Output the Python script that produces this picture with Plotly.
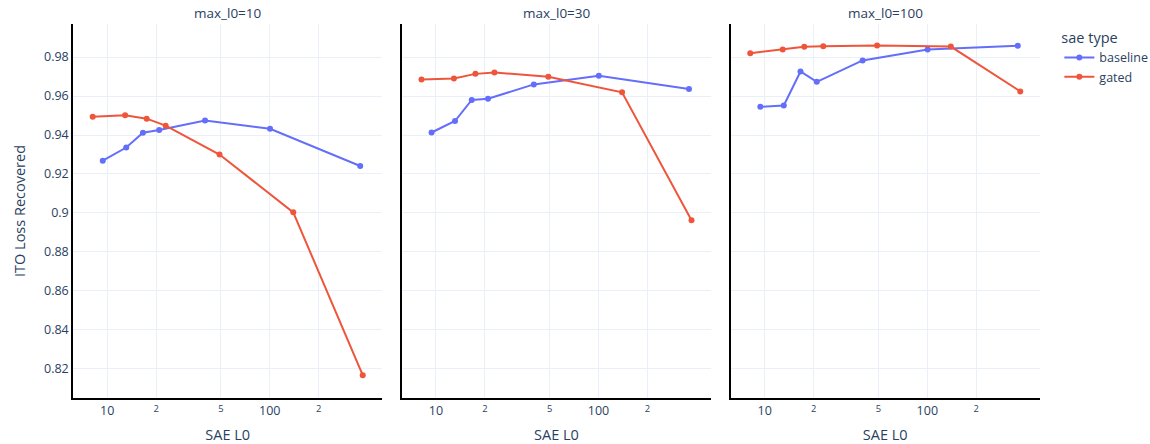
import plotly.graph_objects as go

facets = ["max_l0=10", "max_l0=30", "max_l0=100"]

baseline_l0 = [9.4, 13.1, 16.6, 20.9, 40.0, 100.4, 360.0]
gated_l0 = [8.15, 12.9, 17.5, 22.9, 49.1, 139.5, 373.0]

baseline_10 = [0.9268, 0.9336, 0.9412, 0.9426, 0.9475, 0.9432, 0.9241]
gated_10 = [0.9494, 0.9501, 0.9484, 0.9448, 0.9300, 0.9003, 0.8167]

baseline_30 = [0.9413, 0.9472, 0.9580, 0.9586, 0.9660, 0.9704, 0.9636]
gated_30 = [0.9685, 0.9690, 0.9714, 0.9721, 0.9699, 0.9619, 0.8962]

baseline_100 = [0.9545, 0.9552, 0.9726, 0.9673, 0.9783, 0.9839, 0.9858]
gated_100 = [0.9820, 0.9839, 0.9853, 0.9856, 0.9859, 0.9854, 0.9624]

baseline_series = [baseline_10, baseline_30, baseline_100]
gated_series = [gated_10, gated_30, gated_100]

BLUE = "#636efa"
RED = "#EF553B"

fig = go.Figure()

gap = 0.02
pw = (1 - 2 * gap) / 3
domains = [[i * (pw + gap), i * (pw + gap) + pw] for i in range(3)]

for i in range(3):
    xa = "x" if i == 0 else f"x{i+1}"
    ya = "y" if i == 0 else f"y{i+1}"
    fig.add_trace(go.Scatter(
        x=baseline_l0, y=baseline_series[i], mode="lines+markers",
        name="baseline", legendgroup="baseline", showlegend=(i == 0),
        line=dict(color=BLUE, width=2), marker=dict(size=6, color=BLUE),
        xaxis=xa, yaxis=ya))
    fig.add_trace(go.Scatter(
        x=gated_l0, y=gated_series[i], mode="lines+markers",
        name="gated", legendgroup="gated", showlegend=(i == 0),
        line=dict(color=RED, width=2), marker=dict(size=6, color=RED),
        xaxis=xa, yaxis=ya))

layout = dict(
    template="plotly_white",
    width=1150, height=444,
    margin=dict(l=73, r=110, t=24, b=46, autoexpand=False),
    legend=dict(title=dict(text="sae type", font=dict(size=14.5)),
                tracegroupgap=0, font=dict(size=12.5),
                x=1.02, y=1, xanchor="left", yanchor="top"),
    font=dict(family="'Open Sans', verdana, arial, sans-serif", color="#2a3f5f", size=12),
)

for i in range(3):
    xk = "xaxis" if i == 0 else f"xaxis{i+1}"
    yk = "yaxis" if i == 0 else f"yaxis{i+1}"
    layout[xk] = dict(
        domain=domains[i], type="log", range=[0.79, 2.693],
        anchor="y" if i == 0 else f"y{i+1}", automargin=False,
        title=dict(text="SAE L0", font=dict(size=14.5)), showline=True, linecolor="black",
        linewidth=1.5, gridcolor="#EBF0F8", zeroline=False,
        tickfont=dict(size=12.5))
    layout[yk] = dict(
        domain=[0, 1], range=[0.805, 0.997],
        anchor="x" if i == 0 else f"x{i+1}", automargin=False,
        showline=True, linecolor="black", linewidth=1.5,
        gridcolor="#EBF0F8", zeroline=False,
        showticklabels=(i == 0), tickfont=dict(size=12.5),
        title=dict(text="ITO Loss Recovered" if i == 0 else "", font=dict(size=14.5)))
    if i > 0:
        layout[yk]["matches"] = "y"

fig.update_layout(**layout)

for i in range(3):
    fig.add_annotation(
        text=facets[i], x=(domains[i][0] + domains[i][1]) / 2, y=1.0,
        xref="paper", yref="paper", xanchor="center", yanchor="bottom",
        showarrow=False, font=dict(size=13.5))

fig.write_html("out.html", config={"displayModeBar": False},
               post_script="document.body.style.margin='0';")
